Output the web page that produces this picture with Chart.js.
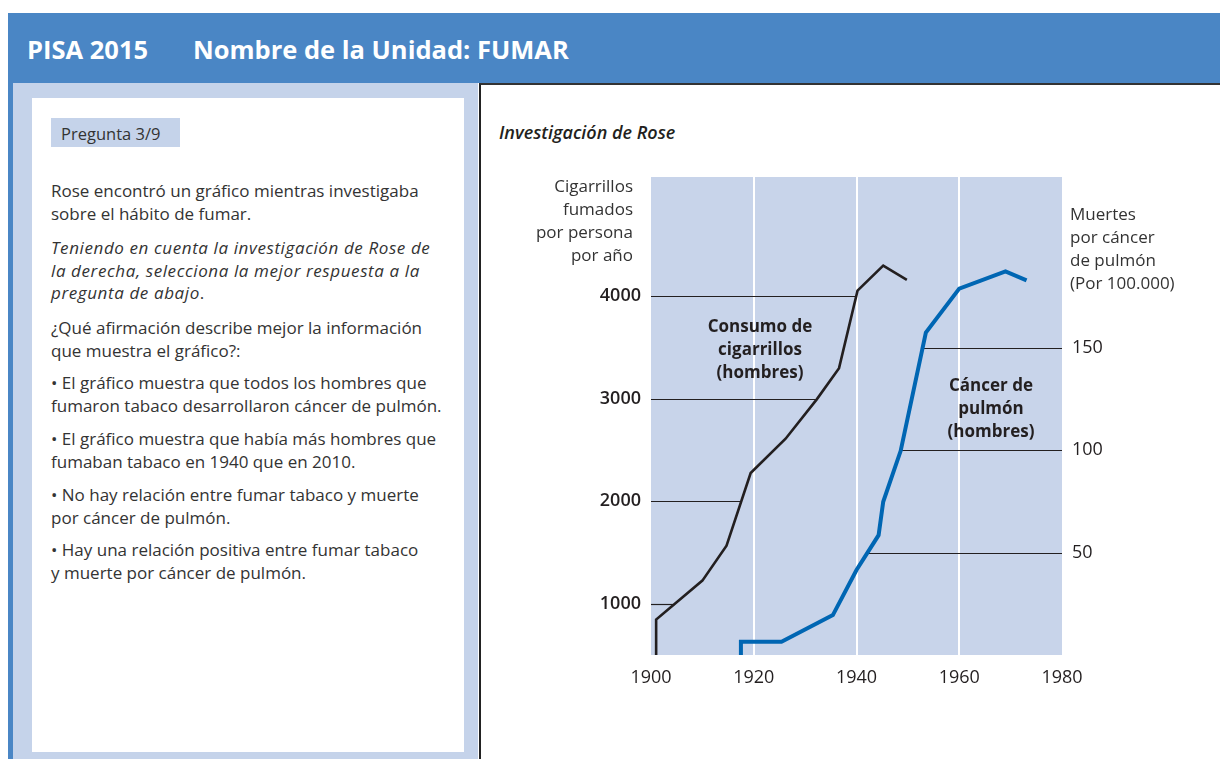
<!DOCTYPE html>
<html>
<head>
<meta charset="utf-8">
<script src="https://cdn.jsdelivr.net/npm/chart.js@4"></script>
<style>
    body { margin: 0; width: 1220px; height: 759px; overflow: hidden; background: #fff; position: relative; font-family: "Open Sans", sans-serif; }
    .abs { position: absolute; white-space: nowrap; }
    .header { left: 8px; top: 13px; right: 0; height: 70px; background: #4a86c5; }
    .header__text { top: 33px; color: #fff; font-weight: 700; font-size: 25.5px; line-height: 32px; }
    .leftstrip { left: 8px; top: 83px; width: 5px; bottom: 0; background: #4a86c5; }
    .leftpanel { left: 13px; top: 83px; width: 465px; bottom: 0; background: #c5d3ea; }
    .whitebox { left: 32px; top: 98px; width: 432px; height: 654px; background: #fff; }
    .rightpanel { left: 479px; top: 83px; right: 0; bottom: 0; background: #fff; border-left: 2px solid #222; border-top: 2px solid #333; }
    .pregunta { left: 51px; top: 118px; width: 129px; height: 29px; background: #c5d3ea; }
    .pregunta span { position: absolute; left: 10px; top: 4px; font-size: 16.5px; color: #333; }
    .para { left: 51px; font-size: 17px; line-height: 22.5px; color: #333; }
    .para i { letter-spacing: 0.6px; }
    .chartlabel { font-size: 17px; line-height: 23px; color: #333; }
    .serieslabel { font-size: 17px; line-height: 23px; font-weight: 700; color: #231f20; text-align: center; }
    #rose { left: 481px; top: 86px; }
</style>
</head>
<body>
<div class="abs header"></div>
<div class="abs header__text" style="left:27px">PISA 2015</div>
<div class="abs header__text" style="left:193px">Nombre de la Unidad: FUMAR</div>
<div class="abs leftstrip"></div>
<div class="abs leftpanel"></div>
<div class="abs whitebox"></div>
<div class="abs rightpanel"></div>

<div class="abs pregunta"><span>Pregunta 3/9</span></div>
<div class="abs para" style="top:180px">Rose encontró un gráfico mientras investigaba<br>sobre el hábito de fumar.</div>
<div class="abs para" style="top:237px"><i>Teniendo en cuenta la investigación de Rose de<br>la derecha, selecciona la mejor respuesta a la<br>pregunta de abajo</i>.</div>
<div class="abs para" style="top:317px">¿Qué afirmación describe mejor la información<br>que muestra el gráfico?:</div>
<div class="abs para" style="top:372px">• El gráfico muestra que todos los hombres que<br>fumaron tabaco desarrollaron cáncer de pulmón.</div>
<div class="abs para" style="top:428px">• El gráfico muestra que había más hombres que<br>fumaban tabaco en 1940 que en 2010.</div>
<div class="abs para" style="top:484px">• No hay relación entre fumar tabaco y muerte<br>por cáncer de pulmón.</div>
<div class="abs para" style="top:539px">• Hay una relación positiva entre fumar tabaco<br>y muerte por cáncer de pulmón.</div>

<div class="abs" style="left:499px;top:120px;font-size:18px;font-style:italic;font-weight:600;color:#231f20">Investigación de Rose</div>

<canvas id="rose" class="abs" width="739" height="673"></canvas>

<div class="abs chartlabel" style="right:587px;top:174px;text-align:right">Cigarrillos<br>fumados<br>por persona<br>por año</div>
<div class="abs chartlabel" style="left:1070px;top:202px">Muertes<br>por cáncer<br>de pulmón<br>(Por 100.000)</div>
<div class="abs serieslabel" style="left:690px;top:314px;width:140px">Consumo de<br>cigarrillos<br>(hombres)</div>
<div class="abs serieslabel" style="left:921px;top:373px;width:140px">Cáncer de<br>pulmón<br>(hombres)</div>

<script>
// values
const cigYears = [1901, 1901, 1910, 1914.7, 1919.4, 1926.2, 1932.3, 1936.6, 1940.2, 1945.2, 1949.8];
const cigValues = [470, 845, 1225, 1566, 2274, 2608, 2994, 3296, 4052, 4295, 4156];
const cancerYears = [1917.5, 1917.5, 1925.4, 1935.4, 1940.0, 1944.3, 1945.2, 1948.6, 1953.5, 1960.0, 1969.0, 1973.1];
const cancerValues = [0, 6.5, 6.5, 19.5, 41.5, 58.5, 74.8, 99.7, 157.4, 178.9, 187.3, 182.9];
const yearTicks = [1900, 1920, 1940, 1960, 1980];
const cigTicks = [1000, 2000, 3000, 4000];
const cancerTicks = [50, 100, 150];

function toPoints(xs, ys) {
    return xs.map((x, i) => ({ x: x, y: ys[i] }));
}

// year where a series first reaches value v
function crossYear(xs, ys, v) {
    for (let i = 1; i < xs.length; i++) {
        if ((ys[i - 1] - v) * (ys[i] - v) <= 0 && ys[i] !== ys[i - 1]) {
            return xs[i - 1] + (v - ys[i - 1]) / (ys[i] - ys[i - 1]) * (xs[i] - xs[i - 1]);
        }
    }
    return null;
}

const plotBackground = {
    id: 'plotBackground',
    beforeDraw(chart) {
        const a = chart.chartArea;
        const ctx = chart.ctx;
        ctx.save();
        ctx.fillStyle = '#c8d4ea';
        ctx.fillRect(a.left, a.top, a.right - a.left, a.bottom - a.top);
        ctx.restore();
    }
};

// the short reference lines that run from the axis to the curve
const refLines = {
    id: 'refLines',
    beforeDatasetsDraw(chart) {
        const a = chart.chartArea;
        const ctx = chart.ctx;
        const sx = chart.scales.x;
        ctx.save();
        ctx.strokeStyle = '#231f20';
        ctx.lineWidth = 1.2;
        cigTicks.forEach(v => {
            const yr = crossYear(cigYears, cigValues, v);
            const py = Math.round(chart.scales.y.getPixelForValue(v)) + 0.5;
            ctx.beginPath();
            ctx.moveTo(a.left, py);
            ctx.lineTo(sx.getPixelForValue(yr), py);
            ctx.stroke();
        });
        cancerTicks.forEach(v => {
            const yr = crossYear(cancerYears, cancerValues, v);
            const py = Math.round(chart.scales.y2.getPixelForValue(v)) + 0.5;
            ctx.beginPath();
            ctx.moveTo(sx.getPixelForValue(yr), py);
            ctx.lineTo(a.right, py);
            ctx.stroke();
        });
        ctx.restore();
    }
};

function initChart() {
    const ctx = document.getElementById('rose').getContext('2d');
    const chart = new Chart(ctx, {
        type: 'line',
        data: {
            datasets: [{
                label: 'Consumo de cigarrillos (hombres)',
                data: toPoints(cigYears, cigValues),
                yAxisID: 'y',
                borderColor: '#231f20',
                borderWidth: 2.6,
                pointRadius: 0,
                tension: 0
            }, {
                label: 'Cáncer de pulmón (hombres)',
                data: toPoints(cancerYears, cancerValues),
                yAxisID: 'y2',
                borderColor: '#0066b3',
                borderWidth: 4,
                pointRadius: 0,
                tension: 0
            }]
        },
        options: {
            responsive: false,
            animation: false,
            devicePixelRatio: 1,
            layout: { padding: { top: 91, left: 0, right: 0, bottom: 0 } },
            plugins: { legend: { display: false }, tooltip: { enabled: false } },
            scales: {
                x: {
                    type: 'linear',
                    min: 1900,
                    max: 1980,
                    afterBuildTicks: s => { s.ticks = yearTicks.map(v => ({ value: v })); },
                    afterFit: s => { s.height = 104; },
                    border: { display: false },
                    grid: {
                        drawTicks: false,
                        lineWidth: 2,
                        color: c => (c.tick && (c.tick.value === 1900 || c.tick.value === 1980)) ? 'rgba(0,0,0,0)' : '#ffffff'
                    },
                    ticks: {
                        padding: 12,
                        color: '#231f20',
                        font: { family: 'Open Sans', size: 18 },
                        callback: v => String(v)
                    }
                },
                y: {
                    position: 'left',
                    min: 500,
                    max: 5159,
                    afterBuildTicks: s => { s.ticks = cigTicks.map(v => ({ value: v })); },
                    afterFit: s => { s.width = 170; },
                    border: { display: false },
                    grid: { display: false, drawTicks: false },
                    ticks: {
                        padding: 10,
                        color: '#231f20',
                        font: { family: 'Open Sans', size: 18, weight: '600' },
                        callback: v => String(v)
                    }
                },
                y2: {
                    position: 'right',
                    min: 0,
                    max: 233.4,
                    afterBuildTicks: s => { s.ticks = cancerTicks.map(v => ({ value: v })); },
                    afterFit: s => { s.width = 158; },
                    border: { display: false },
                    grid: { display: false, drawTicks: false },
                    ticks: {
                        padding: 10,
                        color: '#231f20',
                        font: { family: 'Open Sans', size: 18, weight: '500' },
                        callback: v => String(v)
                    }
                }
            }
        },
        plugins: [plotBackground, refLines]
    });
}

initChart();
</script>
</body>
</html>
